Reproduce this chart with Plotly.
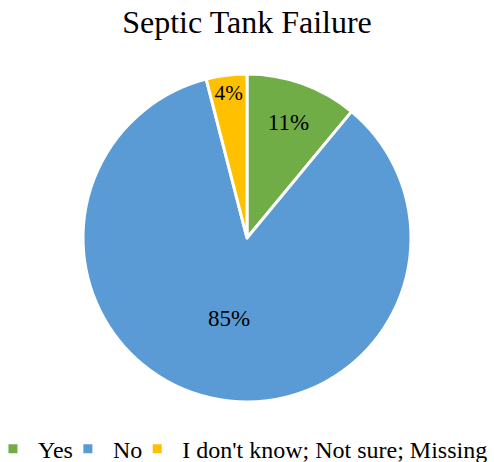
import plotly.graph_objects as go

categories = ["Yes", "No", "I don't know; Not sure; Missing"]
values = [11, 85, 4]
colors = ["#70AD47", "#5B9BD5", "#FFC000"]

fig = go.Figure(go.Pie(
    labels=categories,
    values=values,
    sort=False,
    direction="clockwise",
    rotation=0,
    domain=dict(x=[0.1653, 0.8347], y=[0, 1]),
    marker=dict(colors=colors, line=dict(color="white", width=3)),
    texttemplate="%{percent:.0%}",
    textposition="inside",
    insidetextorientation="horizontal",
    textfont=dict(family="Liberation Serif", size=23, color="black"),
    hoverinfo="label+percent",
))

fig.update_layout(
    width=494, height=462,
    paper_bgcolor="white",
    plot_bgcolor="white",
    margin=dict(l=2, r=2, t=74, b=60, autoexpand=False),
    title=dict(text="Septic Tank Failure", x=0.5, xanchor="center",
               yref="container", y=0.953, yanchor="middle",
               font=dict(family="Liberation Serif", size=32, color="black")),
    legend=dict(orientation="h", xref="container", x=0.006, xanchor="left",
                yref="container", y=0.028, yanchor="middle",
                font=dict(family="Liberation Serif", size=24, color="black"),
                itemwidth=40, indentation=-15,
                traceorder="normal"),
    font=dict(family="Liberation Serif"),
)

fig.write_html("out.html", config={"displayModeBar": False},
               post_script="document.body.style.margin='0';document.body.style.overflow='hidden';")
